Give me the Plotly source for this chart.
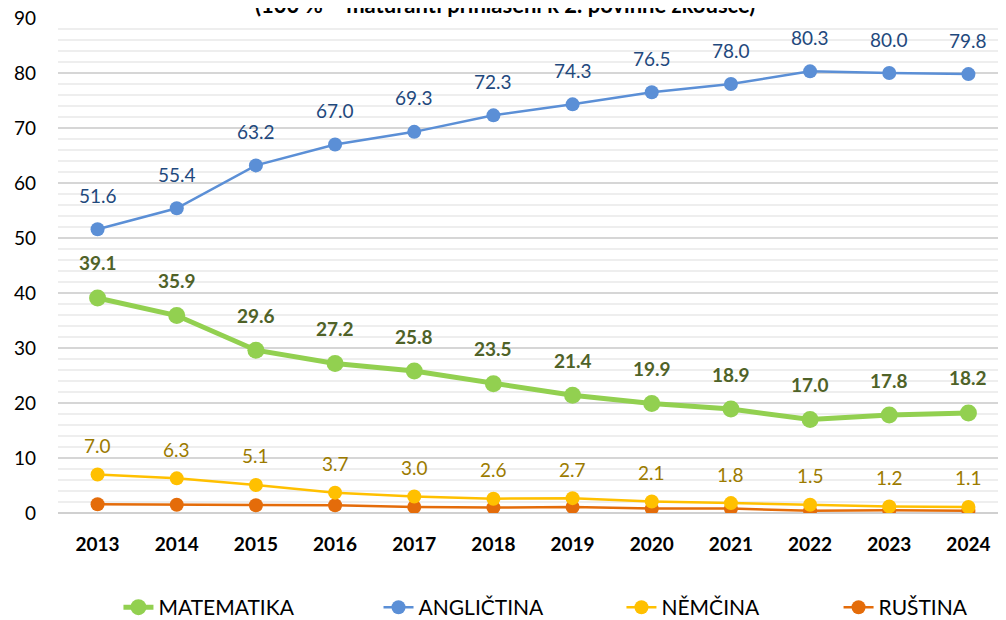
import plotly.graph_objects as go

years = ["2013", "2014", "2015", "2016", "2017", "2018", "2019", "2020", "2021", "2022", "2023", "2024"]
matematika = [39.1, 35.9, 29.6, 27.2, 25.8, 23.5, 21.4, 19.9, 18.9, 17.0, 17.8, 18.2]
anglictina = [51.6, 55.4, 63.2, 67.0, 69.3, 72.3, 74.3, 76.5, 78.0, 80.3, 80.0, 79.8]
nemcina = [7.0, 6.3, 5.1, 3.7, 3.0, 2.6, 2.7, 2.1, 1.8, 1.5, 1.2, 1.1]
rustina = [1.6, 1.5, 1.4, 1.4, 1.1, 1.0, 1.1, 0.8, 0.8, 0.4, 0.5, 0.4]
title_text = "(100 % = maturanti přihlášeni k 2. povinné zkoušce)"

FONT = "Lato"

series = [
    ("MATEMATIKA", matematika, "#92D050", 5, 17, "legend"),
    ("ANGLIČTINA", anglictina, "#5B8FD6", 2.5, 14, "legend2"),
    ("NĚMČINA", nemcina, "#FFC000", 2.5, 14, "legend3"),
    ("RUŠTINA", rustina, "#E46C0A", 2.5, 14, "legend4"),
]

fig = go.Figure()
# draw in reverse order so that Matematika is on top
for name, vals, col, lw, ms, lg in reversed(series):
    fig.add_trace(go.Scatter(
        x=years, y=vals, name=name, mode="lines+markers",
        line=dict(color=col, width=lw),
        marker=dict(color=col, size=ms),
        legend=lg, showlegend=True,
    ))

label_specs = [
    (matematika, "#4F6228", True, 35),
    (anglictina, "#1F497D", False, 34),
    (nemcina, "#9C7B00", False, 29),
]
for vals, col, bold, shift in label_specs:
    for i, v in enumerate(vals):
        txt = f"{v:.1f}"
        if bold:
            txt = f"<b>{txt}</b>"
        fig.add_annotation(x=i, y=v, text=txt, showarrow=False, yshift=shift,
                           font=dict(family=FONT, size=19, color=col),
                           xanchor="center", yanchor="middle")

fig.add_annotation(xref="paper", yref="paper", x=0.47, y=1, text=f"<b>{title_text}</b>",
                   showarrow=False, yshift=14, xanchor="center", yanchor="middle",
                   font=dict(family=FONT, size=22, color="#000000"))

legend_common = dict(orientation="h", yref="container", xref="container", y=0.033, yanchor="middle",
                     xanchor="left", font=dict(family=FONT, size=21, color="#000000"),
                     bgcolor="rgba(0,0,0,0)", itemwidth=30, tracegroupgap=0)
fig.update_layout(
    legend=dict(x=0.1098, **legend_common),
    legend2=dict(x=0.3683, **legend_common),
    legend3=dict(x=0.6098, **legend_common),
    legend4=dict(x=0.8256, **legend_common),
)

fig.update_layout(
    width=1006, height=620,
    margin=dict(l=50, r=6, t=10, b=114.5, autoexpand=False),
    paper_bgcolor="white", plot_bgcolor="white",
    font=dict(family=FONT, color="#000000"),
    xaxis=dict(type="category", range=[-0.5, 11.5], showgrid=False, showline=False,
               ticks="", tickfont=dict(family=FONT, size=19, color="#000000", weight="bold"),
               ticklabelstandoff=18, fixedrange=True, automargin=False),
    yaxis=dict(range=[0, 90], dtick=10, showgrid=True, gridcolor="#D6D6D6", gridwidth=1.5,
               zeroline=True, zerolinecolor="#D0D0D0", zerolinewidth=2,
               minor=dict(dtick=2, showgrid=True, gridcolor="#EEEEEE", gridwidth=1.5),
               tickfont=dict(family=FONT, size=19, color="#000000"), ticks="",
               ticklabelstandoff=21, ticklabeloverflow="allow", showline=False,
               automargin=False),
)

fig.write_html("out.html")
